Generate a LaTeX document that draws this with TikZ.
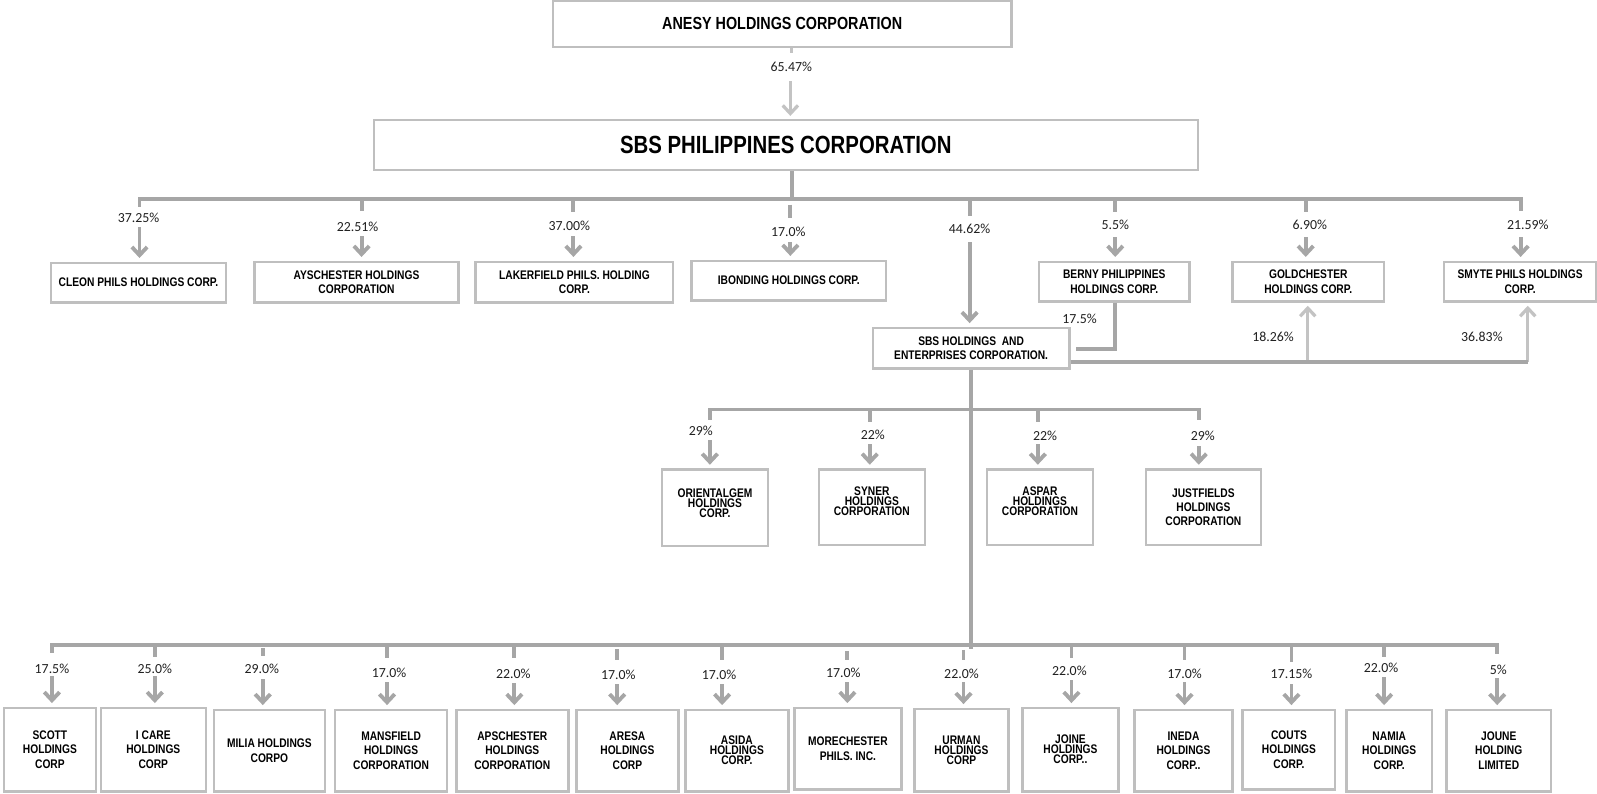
\documentclass[tikz,border=0pt]{standalone}
\usepackage{fontspec}
\usetikzlibrary{arrows.meta}
\newfontfamily\narrowfont[FakeStretch=0.82]{Liberation Sans}
\newfontfamily\pctfont{Carlito}
\definecolor{boxgray}{HTML}{BFBFBF}
\definecolor{conngray}{HTML}{A6A6A6}
\definecolor{lightarr}{HTML}{C3C3C3}
\definecolor{pctcol}{HTML}{202020}
\tikzset{
 orgbox/.style={draw=boxgray, line width=2.4pt, fill=white, align=center, inner sep=0pt,
   font=\narrowfont\bfseries\fontsize{12.25}{14}\selectfont},
 tight/.style={font=\narrowfont\bfseries\fontsize{12.25}{9.8}\selectfont},
 tighttext/.style={align=center, inner sep=0pt, font=\narrowfont\bfseries\fontsize{12.25}{9.8}\selectfont},
 pct/.style={font=\pctfont\fontsize{13.6}{15}\selectfont, text=pctcol, inner sep=0pt},
 conn/.style={draw=conngray, line width=3.8pt},
 arr/.style={conn, -{Straight Barb[length=8pt,width=15pt]}, shorten >=3.5pt},
 lconn/.style={draw=lightarr, line width=3.2pt},
 larr/.style={lconn, -{Straight Barb[length=8pt,width=15pt]}, shorten >=3pt},
}
\newcommand\orgkid[8]{%
  \draw[conn] (#2,#3) -- (#2,#4);
  \node[pct] (#1-pct) at (#5,#6) {#8};
  \draw[arr] (#2,#7) -- (#1.north -| #2,0);
}
\begin{document}
\begin{tikzpicture}[x=1pt,y=-1pt]
\useasboundingbox (0,0) rectangle (1568,779);
% ---------- top ----------
\node[orgbox, minimum width=450, minimum height=45,
  font=\narrowfont\bfseries\fontsize{17.2}{20}\selectfont] (anesy) at (768,23.5) {ANESY HOLDINGS CORPORATION};
\node[orgbox, minimum width=809, minimum height=49,
  font=\narrowfont\bfseries\fontsize{24.4}{28}\selectfont] (sbs) at (771.5,142.5) {SBS PHILIPPINES CORPORATION};
\draw[lconn] (anesy.south -| 777,0) -- (777,52);
\node[pct] (sbs-pct) at (777,66) {65.47\%};
\draw[larr] (776,80) -- (sbs.north -| 776,0);
% ---------- row 1 ----------
\draw[conn] (sbs.south -| 778,0) -- (778,195);
\draw[conn] (137,203) -- (137,195) -- (1493,195) -- (1493,207);
\node[orgbox, minimum width=172, minimum height=39] (cleon) at (136,277.5) {CLEON PHILS HOLDINGS CORP.};
\node[orgbox, minimum width=200, minimum height=40] (aysch) at (350,277) {AYSCHESTER HOLDINGS\\CORPORATION};
\node[orgbox, minimum width=194, minimum height=40] (laker) at (564,277) {LAKERFIELD PHILS. HOLDING\\CORP.};
\node[orgbox, minimum width=191, minimum height=39] (ibond) at (774.5,275.5) {IBONDING HOLDINGS CORP.};
\node[orgbox, minimum width=148, minimum height=39] (berny) at (1094,276.5) {BERNY PHILIPPINES\\HOLDINGS CORP.};
\node[orgbox, minimum width=149, minimum height=39] (gold) at (1284.5,276.5) {GOLDCHESTER\\HOLDINGS CORP.};
\node[orgbox, minimum width=149, minimum height=39] (smyte) at (1492.5,276.5) {SMYTE PHILS HOLDINGS\\CORP.};
\node[orgbox, minimum width=193, minimum height=40] (sbshe) at (953.5,342) {SBS HOLDINGS\ \ AND\\ENTERPRISES CORPORATION.};
\orgkid{cleon}{137}{203}{203}{136}{214}{223}{37.25\%}
\orgkid{aysch}{355}{195}{207}{351}{223}{232}{22.51\%}
\orgkid{laker}{563}{195}{208}{559}{222}{232}{37.00\%}
\orgkid{ibond}{776}{201}{214}{774}{228}{238}{17.0\%}
\orgkid{sbshe}{952}{195}{212}{952}{225}{238}{44.62\%}
\orgkid{berny}{1095}{195}{208}{1095}{221}{233}{5.5\%}
\orgkid{gold}{1282}{195}{208}{1286}{221}{233}{6.90\%}
\orgkid{smyte}{1493}{207}{207}{1500}{221}{233}{21.59\%}
% ---------- cross holdings ----------
\draw[conn] (berny.south -| 1095,0) -- (1095,343) -- (1056,343);
\node[pct] (berny-sbshe-pct) at (1060,313) {17.5\%};
\draw[larr] (1284,355) -- (gold.south -| 1284,0);
\draw[larr] (1500,355) -- (smyte.south -| 1500,0);
\draw[conn] ([yshift=-13pt]sbshe.east) -- (1500,355);
\node[pct] (sbshe-gold-pct) at (1250,331) {18.26\%};
\node[pct] (sbshe-smyte-pct) at (1455,331) {36.83\%};
% ---------- middle row ----------
\draw[conn] (sbshe.south) -- (sbshe.south |- 0,637);
\draw[conn] (697,412) -- (697,402) -- (1177,402) -- (1177,412);
\node[orgbox, minimum width=104, minimum height=75] (orient) at (702,498.5) {};
\node[tighttext] (orient-t) at ([yshift=4pt]orient.center) {ORIENTALGEM\\HOLDINGS\\CORP.};
\node[orgbox, minimum width=104, minimum height=74] (syner) at (856,498) {};
\node[tighttext] (syner-t) at ([yshift=6pt]syner.center) {SYNER\\HOLDINGS\\CORPORATION};
\node[orgbox, minimum width=104, minimum height=74] (aspar) at (1021,498) {};
\node[tighttext] (aspar-t) at ([yshift=6pt]aspar.center) {ASPAR\\HOLDINGS\\CORPORATION};
\node[orgbox, minimum width=113, minimum height=74] (justf) at (1181.5,498) {JUSTFIELDS\\HOLDINGS\\CORPORATION};
\orgkid{orient}{697}{412}{412}{688}{423}{432}{29\%}
\orgkid{syner}{854}{402}{414}{857}{427}{436}{22\%}
\orgkid{aspar}{1019}{402}{414}{1026}{428}{436}{22\%}
\orgkid{justf}{1177}{412}{412}{1181}{428}{438}{29\%}
% ---------- bottom row ----------
\draw[conn] (51,641) -- (51,633) -- (1470,633) -- (1470,642);
\node[orgbox, minimum width=90, minimum height=82] (scott) at (49,736) {SCOTT\\HOLDINGS\\CORP};
\node[orgbox, minimum width=103, minimum height=82] (icare) at (150.5,736) {I CARE\\HOLDINGS\\CORP};
\node[orgbox, minimum width=109, minimum height=80] (milia) at (264.5,737) {MILIA HOLDINGS\\CORPO};
\node[orgbox, minimum width=110, minimum height=80] (mansf) at (384,737) {MANSFIELD\\HOLDINGS\\CORPORATION};
\node[orgbox, minimum width=110, minimum height=80] (apsch) at (503,737) {APSCHESTER\\HOLDINGS\\CORPORATION};
\node[orgbox, minimum width=100, minimum height=80] (aresa) at (616,737) {ARESA\\HOLDINGS\\CORP};
\node[orgbox, tight, minimum width=101, minimum height=80] (asida) at (723.5,737) {ASIDA\\HOLDINGS\\CORP.};
\node[orgbox, minimum width=105, minimum height=80] (morec) at (832.5,735) {MORECHESTER\\PHILS. INC.};
\node[orgbox, tight, minimum width=92, minimum height=81] (urman) at (944,736.5) {URMAN\\HOLDINGS\\CORP};
\node[orgbox, tight, minimum width=94, minimum height=82] (joine) at (1051,736) {JOINE\\HOLDINGS\\CORP..};
\node[orgbox, minimum width=96, minimum height=80] (ineda) at (1162,737) {INEDA\\HOLDINGS\\CORP..};
\node[orgbox, minimum width=91, minimum height=78] (couts) at (1265.5,736) {COUTS\\HOLDINGS\\CORP.};
\node[orgbox, minimum width=84, minimum height=80] (namia) at (1364,737) {NAMIA\\HOLDINGS\\CORP.};
\node[orgbox, minimum width=103, minimum height=80] (joune) at (1471.5,737) {JOUNE\\HOLDING\\LIMITED};
\orgkid{scott}{51}{641}{641}{51}{657}{664}{17.5\%}
\orgkid{icare}{152}{633}{645}{152}{657}{664}{25.0\%}
\orgkid{milia}{258}{636}{644}{257}{657}{667}{29.0\%}
\orgkid{mansf}{380}{633}{646}{382}{661}{670}{17.0\%}
\orgkid{apsch}{505}{633}{646}{504}{662}{671}{22.0\%}
\orgkid{aresa}{606}{637}{648}{607}{663}{672}{17.0\%}
\orgkid{asida}{709}{633}{648}{706}{663}{672}{17.0\%}
\orgkid{morec}{832}{639}{648}{828}{661}{670}{17.0\%}
\orgkid{urman}{946}{638}{648}{944}{662}{670}{22.0\%}
\orgkid{joine}{1052}{633}{646}{1050}{659}{668}{22.0\%}
\orgkid{ineda}{1163}{633}{648}{1163}{662}{670}{17.0\%}
\orgkid{couts}{1268}{633}{650}{1268}{662}{672}{17.15\%}
\orgkid{namia}{1359}{633}{645}{1356}{656}{665}{22.0\%}
\orgkid{joune}{1470}{642}{642}{1471}{658}{666}{5\%}
\end{tikzpicture}
\end{document}
